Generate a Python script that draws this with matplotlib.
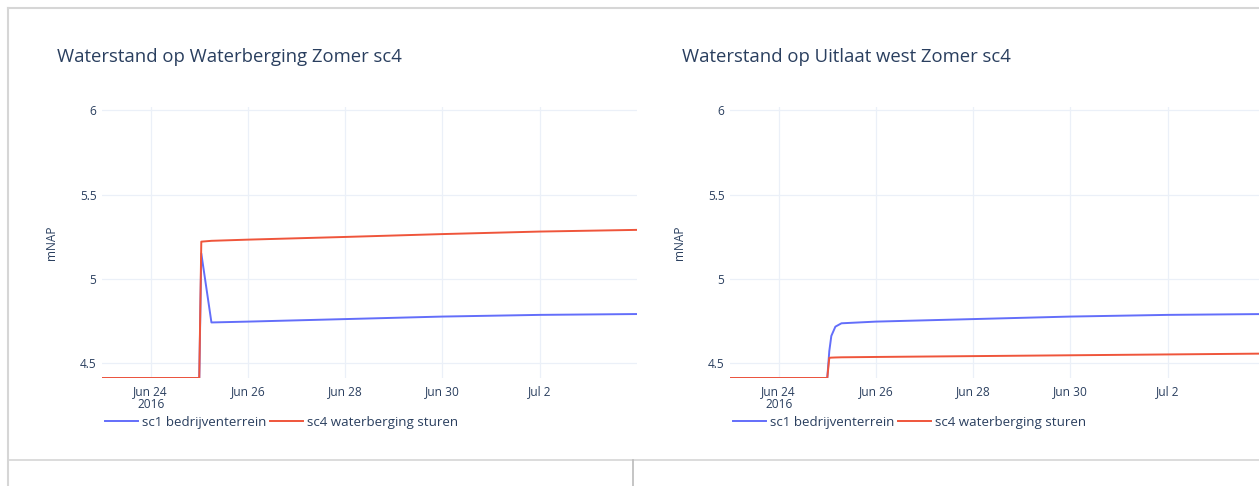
import pandas as pd
import matplotlib.pyplot as plt
from matplotlib.lines import Line2D

plt.rcParams['font.family'] = ['Open Sans', 'DejaVu Sans']

# -------- data --------
titles = ["Waterstand op Waterberging Zomer sc4", "Waterstand op Uitlaat west Zomer sc4"]
series_names = ["sc1 bedrijventerrein", "sc4 waterberging sturen"]

t_left = ["2016-06-23 00:00", "2016-06-25 00:00", "2016-06-25 01:00", "2016-06-25 06:00",
          "2016-06-26 00:00", "2016-06-28 00:00", "2016-06-30 00:00", "2016-07-02 00:00",
          "2016-07-04 00:00"]
sc1_left = [4.41, 4.41, 5.15, 4.74, 4.745, 4.76, 4.775, 4.785, 4.79]
sc4_left = [4.41, 4.41, 5.22, 5.225, 5.232, 5.248, 5.265, 5.28, 5.29]

t_right = ["2016-06-23 00:00", "2016-06-25 00:00", "2016-06-25 01:00", "2016-06-25 02:00",
           "2016-06-25 04:00", "2016-06-25 07:00", "2016-06-26 00:00", "2016-06-28 00:00",
           "2016-06-30 00:00", "2016-07-02 00:00", "2016-07-04 00:00"]
sc1_right = [4.41, 4.41, 4.57, 4.66, 4.715, 4.735, 4.745, 4.76, 4.775, 4.785, 4.79]
sc4_right = [4.41, 4.41, 4.53, 4.531, 4.532, 4.533, 4.535, 4.54, 4.545, 4.55, 4.555]

tick_dates = ["2016-06-24", "2016-06-26", "2016-06-28", "2016-06-30", "2016-07-02"]
tick_labels = ["Jun 24\n2016", "Jun 26", "Jun 28", "Jun 30", "Jul 2"]
y_ticks = [4.5, 5, 5.5, 6]
y_tick_labels = ["4.5", "5", "5.5", "6"]

colors = ["#636efa", "#EF553B"]
text_col = "#2a3f5f"
grid_col = "#EBF0F8"

W, H = 1259, 486
fig = plt.figure(figsize=(W / 100, H / 100), dpi=100)
fig.patch.set_facecolor("white")

# dashboard panel borders
border = "#d6d6d6"
fig.add_artist(Line2D([8 / W, 1], [1 - 8 / H, 1 - 8 / H], color=border, lw=1.5))
fig.add_artist(Line2D([8 / W, 8 / W], [0, 1 - 8 / H], color=border, lw=1.5))
fig.add_artist(Line2D([8 / W, 1], [1 - 460 / H, 1 - 460 / H], color=border, lw=1.2))
fig.add_artist(Line2D([633 / W, 633 / W], [0, 1 - 460 / H], color="#bbbbbb", lw=1.2))

panels = [
    (102, 57, t_left, sc1_left, sc4_left),
    (730, 682, t_right, sc1_right, sc4_right),
]

for i, (x0, tx, t, s1, s4) in enumerate(panels):
    ax = fig.add_axes([x0 / W, 1 - 378 / H, 535 / W, 271 / H])
    ax.plot(pd.to_datetime(t), s1, color=colors[0], lw=1.4, label=series_names[0])
    ax.plot(pd.to_datetime(t), s4, color=colors[1], lw=1.4, label=series_names[1])

    ax.set_xlim(pd.Timestamp("2016-06-23"), pd.Timestamp("2016-07-04"))
    ax.set_ylim(4.41, 6.02)
    ax.set_xticks(pd.to_datetime(tick_dates))
    ax.set_xticklabels(tick_labels)
    ax.set_yticks(y_ticks)
    ax.set_yticklabels(y_tick_labels)
    ax.tick_params(length=0, labelsize=8.6, labelcolor=text_col)
    ax.tick_params(axis="x", pad=5)
    ax.tick_params(axis="y", pad=4)
    for lab in ax.get_xticklabels():
        lab.set_linespacing(1.0)
    ax.grid(True, color=grid_col, lw=0.9)
    ax.set_axisbelow(True)
    for sp in ax.spines.values():
        sp.set_visible(False)

    fig.text(tx / W, 1 - 57 / H, titles[i], fontsize=13.3, color=text_col,
             ha="left", va="center")
    fig.text((x0 - 50) / W, 1 - 243 / H, "mNAP", rotation=90, fontsize=8.6,
             color=text_col, ha="center", va="center")

    ax.legend(loc="center left", bbox_to_anchor=((x0 + 3) / W, 1 - 422 / H),
              bbox_transform=fig.transFigure, ncol=2, frameon=False,
              fontsize=9.6, handlelength=2.5, handletextpad=0.3,
              columnspacing=0.25, borderaxespad=0, borderpad=0,
              labelcolor=text_col)

fig.savefig("out.png", dpi=100, facecolor="white")
